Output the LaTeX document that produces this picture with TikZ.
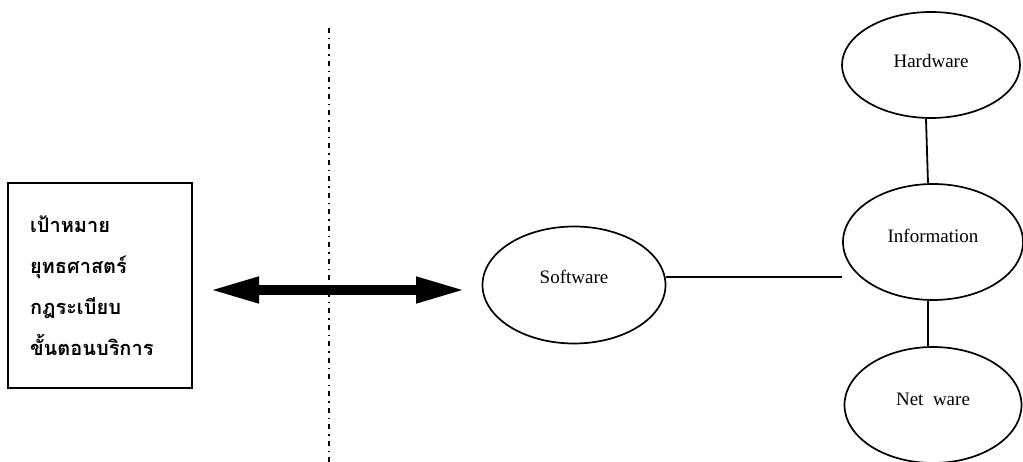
\documentclass[tikz,border=0pt]{standalone}
\usepackage{fontspec}
\setmainfont{Liberation Serif}
\newfontfamily\thaifont[Script=Thai]{Loma}
\usetikzlibrary{shapes.geometric,arrows.meta}
\begin{document}
\begin{tikzpicture}[x=1pt,y=-1pt,
  oval/.style={ellipse,draw,line width=1.7pt,inner sep=0pt},
  lab/.style={font=\fontsize{19}{22}\selectfont},
  link/.style={line width=1.8pt},
]
\useasboundingbox (0,0) rectangle (1023,462);
% left box with Thai text
\node[draw,line width=2pt,minimum width=184pt,minimum height=205pt,text width=140pt,
      align=left,inner sep=0pt,
      font=\thaifont\bfseries\fontsize{20}{41}\selectfont] (goals) at (100,285.5)
      {เป้าหมาย\\ยุทธศาสตร์\\กฎระเบียบ\\ขั้นตอนบริการ};
% dash-dot divider
\coordinate (dtop) at (329,28);
\coordinate (dbot) at (329,462);
\draw[line width=2pt, dash pattern=on 5pt off 5pt on 1.5pt off 5pt] (dtop) -- (dbot);
% thick double arrow
\coordinate (al) at (209,290);
\coordinate (ar) at (466,290);
\draw[line width=10pt, {Triangle[length=50pt,width=24pt]}-{Triangle[length=50pt,width=24pt]}] (al) -- (ar);
% ellipses
\node[oval,minimum width=183pt,minimum height=117pt,label={[lab,yshift=8pt]center:Software}] (sw) at (574,285) {};
\node[oval,minimum width=180pt,minimum height=116pt,label={[lab,yshift=6pt]center:Information}] (info) at (933,242) {};
\node[oval,minimum width=178pt,minimum height=106pt,label={[lab,yshift=4pt]center:Hardware}] (hw) at (931,65) {};
\node[oval,minimum width=177pt,minimum height=116pt,label={[lab,yshift=6pt]center:Net\ \ ware}] (net) at (933,405) {};
% connectors
\coordinate (swend) at (info.west |- sw.5);
\draw[link] (sw.5) -- (swend);
\draw[link] ([xshift=-5pt]hw.south) -- ([xshift=-5pt]info.north);
\draw[link] ([xshift=-5pt]info.south) -- ([xshift=-5pt]net.north);
\end{tikzpicture}
\end{document}
